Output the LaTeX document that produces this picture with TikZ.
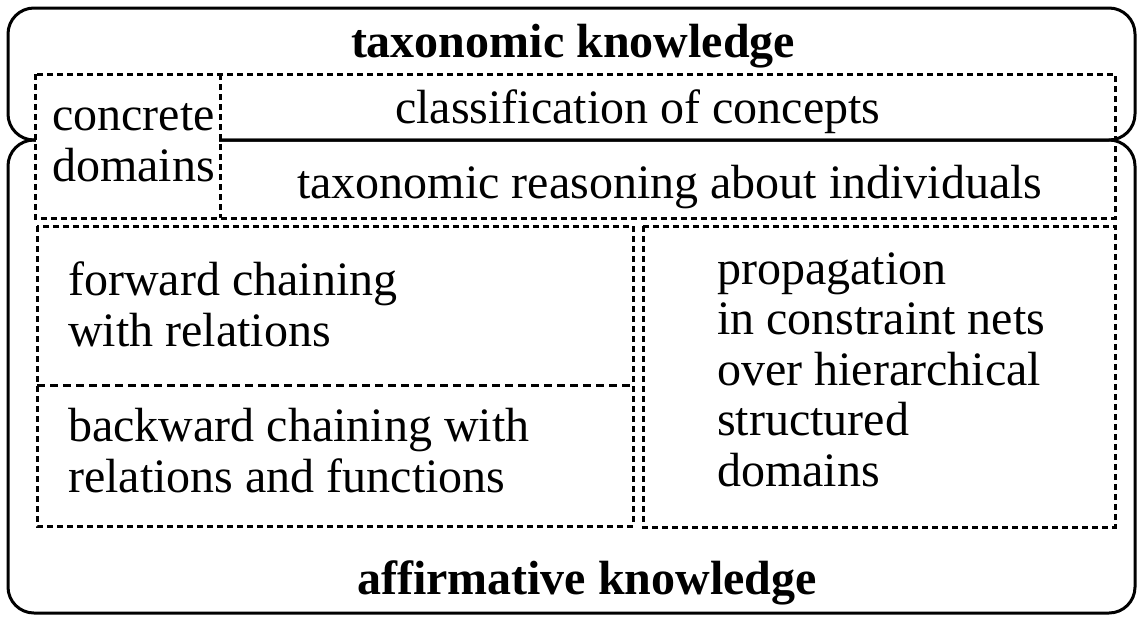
\documentclass[tikz,border=0pt]{standalone}
\usepackage{fontspec}
\setmainfont{Liberation Serif}
\begin{document}
\begin{tikzpicture}[x=1pt,y=-1pt,
  outerbox/.style={draw=black, line width=3pt, rounded corners=26pt},
  dhor/.style={draw=black, line width=3pt, dash pattern=on 8pt off 5pt},
  dbox/.style={draw=black, line width=3pt, dash pattern=on 6pt off 4pt},
  txt/.style={font=\fontsize{48}{50.5}\selectfont, inner sep=0pt, anchor=base west, align=left},
  ttl/.style={font=\fontsize{48}{50.5}\selectfont\bfseries, inner sep=0pt, anchor=base}]
\useasboundingbox (0,0) rectangle (1137,616);
% outer solid boxes
\draw[outerbox] (8,8) rectangle (1135,140);
\draw[outerbox] (8,140) rectangle (1135,613);
% hide the shared edge under the concrete domains cell
\fill[white] (36,75) rectangle (219,216);
% taxonomic dashed region
\draw[dbox] (35,74) rectangle (1115,218);
\draw[dbox] (220,74) -- (220,218);
% lower dashed regions
\draw[dbox] (37,226) rectangle (633,526);
\draw[dhor] (37,385) -- (633,385);
\draw[dbox] (643,226) rectangle (1115,527);
% texts (multi-line nodes: base = last line)
\node[ttl] (tax) at (573,57) {taxonomic knowledge};
\node[txt] (conc) at (52,181) {concrete\\domains};
\node[txt] (class) at (395,123) {classification of concepts};
\node[txt] (reas) at (297,198) {taxonomic reasoning about individuals};
\node[txt] (fwd) at (68,346) {forward chaining\\with relations};
\node[txt] (bwd) at (68,492) {backward chaining with\\relations and functions};
\node[txt] (prop) at (717,486) {propagation\\in constraint nets\\over hierarchical\\structured\\domains};
\node[ttl] (aff) at (587,594) {affirmative knowledge};
\end{tikzpicture}
\end{document}
